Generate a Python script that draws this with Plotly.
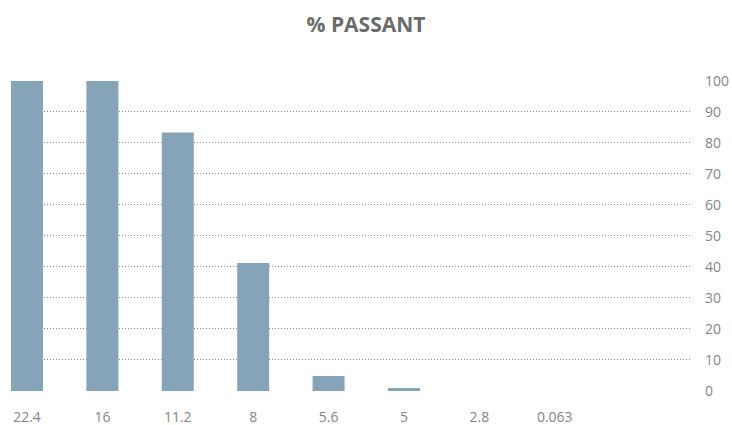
import plotly.graph_objects as go

sieves = ["22.4", "16", "11.2", "8", "5.6", "5", "2.8", "0.063"]
passant = [100, 100, 83.4, 41.3, 4.8, 1.0, 0, 0]
y_ticks = [0, 10, 20, 30, 40, 50, 60, 70, 80, 90, 100]

fig = go.Figure(go.Bar(
    x=list(range(len(sieves))), y=passant,
    marker=dict(color="#85A4B8", line=dict(width=0)),
    width=0.424,
    hoverinfo="skip",
))

fig.update_layout(
    width=732, height=425,
    margin=dict(l=11, r=40, t=80, b=34, autoexpand=False),
    paper_bgcolor="white", plot_bgcolor="white",
    showlegend=False,
    font=dict(family="Open Sans", color="#858585", size=14),
    title=dict(text="<b>% PASSANT</b>", x=0.5, xanchor="center",
               yref="container", y=0.960, yanchor="top",
               font=dict(family="Open Sans", size=21, color="#6b6b6b")),
    xaxis=dict(
        range=[-0.212, 8.82], tickmode="array",
        tickvals=list(range(len(sieves))), ticktext=sieves,
        showgrid=False, zeroline=False, showline=False, ticks="",
        ticklabelstandoff=16, automargin=False,
    ),
    yaxis=dict(
        range=[0, 100.3], side="right", tickvals=y_ticks,
        showgrid=True, gridcolor="#8a8a8a", griddash="1px,2px", gridwidth=1,
        zeroline=False, showline=False, ticks="",
        ticklabelstandoff=12, automargin=False,
    ),
)

fig.write_html("out.html", config={"displayModeBar": False},
               post_script="document.body.style.margin='0';")
